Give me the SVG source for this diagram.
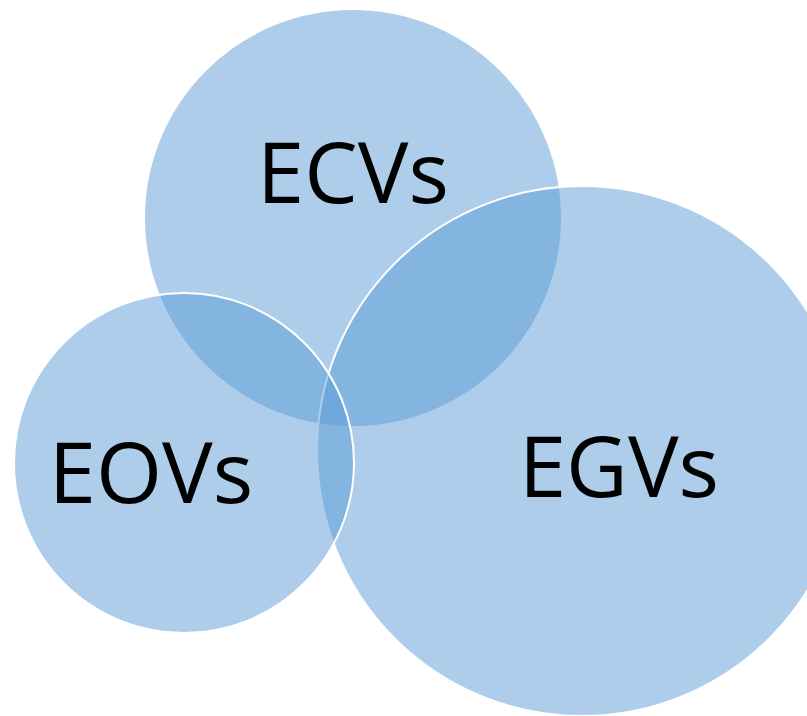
<svg xmlns="http://www.w3.org/2000/svg" width="807" height="716" viewBox="0 0 807 716">
<style>
.c{fill:#5B9BD5;fill-opacity:0.5;stroke:#FFFFFF;stroke-width:2}
.t{font-family:"Open Sans","Liberation Sans",sans-serif;font-size:85px;fill:#000000;text-anchor:middle}
</style>
<rect width="807" height="716" fill="#FFFFFF"/>
<g id="ECVs">
<circle class="c" cx="353" cy="218" r="209"/>
<text class="t" x="353" y="203">ECVs</text>
</g>
<g id="EGVs">
<circle class="c" cx="582" cy="451" r="265"/>
<text class="t" x="619" y="497">EGVs</text>
</g>
<g id="EOVs">
<circle class="c" cx="184" cy="463" r="170"/>
<text class="t" x="151" y="503">EOVs</text>
</g>
<g id="connectors"/>
</svg>
